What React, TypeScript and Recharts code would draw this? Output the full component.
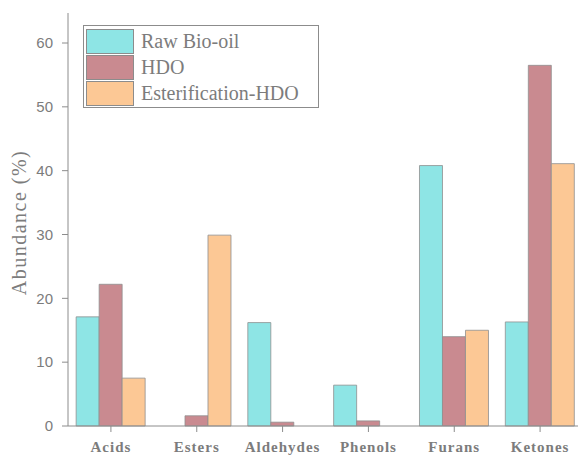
import React from 'react'
import { BarChart, Bar, XAxis, YAxis } from 'recharts'

const categories = ['Acids', 'Esters', 'Aldehydes', 'Phenols', 'Furans', 'Ketones']
const rawBioOil = [17.1, 0, 16.2, 6.4, 40.8, 16.3]
const hdo = [22.2, 1.6, 0.6, 0.8, 14.0, 56.5]
const esterificationHdo = [7.5, 29.9, 0, 0, 15.0, 41.1]
const yTicks = [0, 10, 20, 30, 40, 50, 60]

const series = [
  { key: 'raw', name: 'Raw Bio-oil', color: '#8ee5e5' },
  { key: 'hdo', name: 'HDO', color: '#c98a90' },
  { key: 'ester', name: 'Esterification-HDO', color: '#fcc895' },
]

const data = categories.map((name, i) => ({
  name,
  raw: rawBioOil[i],
  hdo: hdo[i],
  ester: esterificationHdo[i],
}))

const AXIS = '#8c8c8c'
const TEXT = '#7c7c7c'
const SERIF = '"Liberation Serif", "Times New Roman", serif'
const SANS = '"Liberation Sans", Arial, sans-serif'

// legend box sits over the top-left corner of the plot
const LegendBox = () => (
  <div
    style={{
      position: 'absolute',
      left: 83,
      top: 25,
      width: 222,
      border: `1px solid ${AXIS}`,
      background: '#fff',
      padding: '2px 10px 1px 2px',
    }}>
    {series.map((s) => (
      <div key={s.key} style={{ display: 'flex', alignItems: 'center', height: 26 }}>
        <div
          style={{
            width: 46,
            height: 23,
            background: s.color,
            border: `1px solid ${AXIS}`,
            marginRight: 7,
          }}
        />
        <span style={{ fontFamily: SERIF, fontSize: 20, color: TEXT, lineHeight: '26px' }}>
          {s.name}
        </span>
      </div>
    ))}
  </div>
)

const App = () => (
  <div
    style={{
      position: 'fixed',
      left: 0,
      top: 0,
      width: 578,
      height: 455,
      overflow: 'hidden',
      background: '#fff',
    }}>
    <BarChart
      width={600}
      height={455}
      data={data}
      margin={{ top: 13, right: 17, bottom: 0, left: 0 }}
      barGap={0}
      barCategoryGap="9.5%">
      <XAxis
        dataKey="name"
        height={29}
        stroke={AXIS}
        tickSize={6}
        tickMargin={9}
        tick={{ fill: TEXT, fontFamily: SERIF, fontSize: 15, fontWeight: 'bold', letterSpacing: 1 }}
        interval={0}
      />
      <XAxis
        xAxisId="top"
        dataKey="name"
        orientation="top"
        height={0}
        stroke={AXIS}
        tick={false}
        tickLine={false}
      />
      <YAxis
        width={68}
        domain={[0, 64.7]}
        ticks={yTicks}
        stroke={AXIS}
        tickSize={6}
        tickMargin={9}
        tick={{ fill: TEXT, fontFamily: SANS, fontSize: 15 }}
        label={{
          value: 'Abundance (%)',
          angle: -90,
          position: 'insideLeft',
          dx: 14,
          dy: 3,
          style: { fill: TEXT, fontFamily: SERIF, fontSize: 20, textAnchor: 'middle', letterSpacing: 1.5 },
        }}
      />
      {series.map((s) => (
        <Bar
          key={s.key}
          dataKey={s.key}
          name={s.name}
          fill={s.color}
          stroke="#8f8f8f"
          strokeWidth={0.8}
          isAnimationActive={false}
        />
      ))}
    </BarChart>
    <LegendBox />
  </div>
)

export default App
